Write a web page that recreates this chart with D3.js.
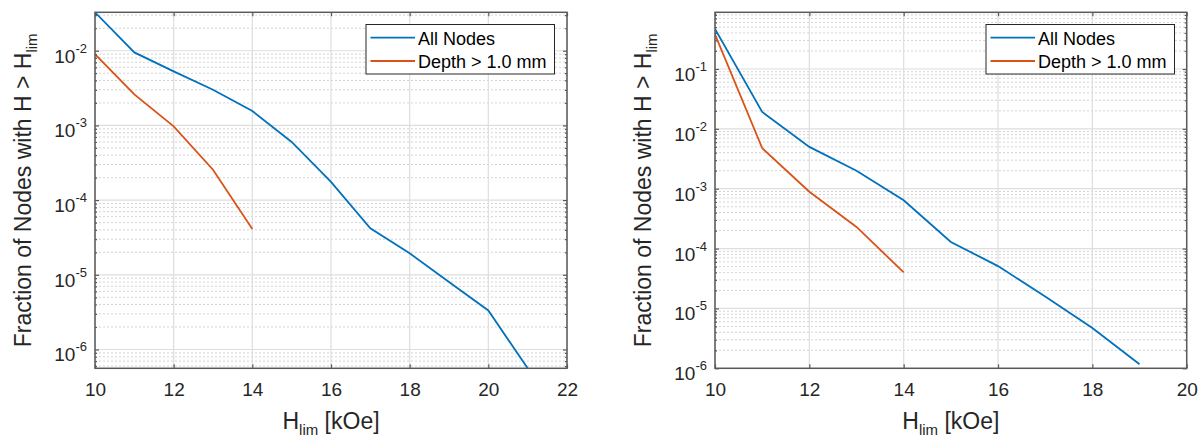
<!DOCTYPE html>
<html>
<head>
<meta charset="utf-8">
<script src="https://cdn.jsdelivr.net/npm/d3@7"></script>
<style>
  html, body { margin: 0; padding: 0; background: #fff; }
  svg { display: block; font-family: "Liberation Sans", Arial, Helvetica, sans-serif; }
</style>
</head>
<body>
<svg id="chart" width="1201" height="437"></svg>
<script>
// ---- Data ----
const leftH = [10, 11, 12, 13, 14, 15, 16, 17, 18, 19, 20, 21];
const leftAllNodes = [0.0327, 0.0095, 0.0053, 0.0030, 0.00156, 0.00060, 0.000175, 0.000042, 0.0000194, 0.0000080, 0.00000333, 0.00000056];
const leftDeepH = [10, 11, 12, 13, 14];
const leftDeep = [0.0090, 0.0026, 0.00097, 0.000255, 0.000041];

const rightH = [10, 11, 12, 13, 14, 15, 16, 17, 18, 19];
const rightAllNodes = [0.466, 0.0192, 0.0050, 0.0020, 0.00064, 0.000129, 0.000051, 0.0000158, 0.0000047, 0.00000117];
const rightDeepH = [10, 11, 12, 13, 14];
const rightDeep = [0.38, 0.00477, 0.00089, 0.00023, 0.00004];

const seriesNames = ["All Nodes", "Depth > 1.0 mm"];
const leftXTicks = [10, 12, 14, 16, 18, 20, 22];
const rightXTicks = [10, 12, 14, 16, 18, 20];
const leftYExp = [-6, -5, -4, -3, -2];
const rightYExp = [-6, -5, -4, -3, -2, -1];
const leftYDomain = [0.00000056, 0.0327];
const rightYDomain = [0.000001, 0.885];

const colors = ["#0072BD", "#D95319"];
const svg = d3.select("#chart");
const textColor = "#262626";

function panel(cfg) {
  const x = d3.scaleLinear().domain(cfg.xDomain).range([cfg.left, cfg.right]);
  const y = d3.scaleLog().domain(cfg.yDomain).range([cfg.bottom, cfg.top]);
  const g = svg.append("g");

  // minor y values
  const minors = [];
  const lo = Math.floor(Math.log10(cfg.yDomain[0])), hi = Math.ceil(Math.log10(cfg.yDomain[1]));
  for (let e = lo; e <= hi; e++) {
    for (let m = 2; m <= 9; m++) {
      const v = m * Math.pow(10, e);
      if (v >= cfg.yDomain[0] && v <= cfg.yDomain[1]) minors.push(v);
    }
  }
  const majors = cfg.yExp.map(e => Math.pow(10, e));

  // minor grid
  g.append("g").selectAll("line").data(minors).join("line")
    .attr("x1", cfg.left).attr("x2", cfg.right)
    .attr("y1", d => y(d)).attr("y2", d => y(d))
    .attr("stroke", "#d4d4d4").attr("stroke-width", 1)
    .attr("stroke-dasharray", "2,2");
  // major grid
  g.append("g").selectAll("line").data(majors).join("line")
    .attr("x1", cfg.left).attr("x2", cfg.right)
    .attr("y1", d => y(d)).attr("y2", d => y(d))
    .attr("stroke", "#dedede").attr("stroke-width", 1.2);
  g.append("g").selectAll("line").data(cfg.xTicks).join("line")
    .attr("x1", d => x(d)).attr("x2", d => x(d))
    .attr("y1", cfg.top).attr("y2", cfg.bottom)
    .attr("stroke", "#dedede").attr("stroke-width", 1.2);

  // clip path
  const clipId = "clip" + cfg.id;
  svg.append("clipPath").attr("id", clipId).append("rect")
    .attr("x", cfg.left).attr("y", cfg.top - 1)
    .attr("width", cfg.right - cfg.left).attr("height", cfg.bottom - cfg.top + 2);

  const line = d3.line().x(d => x(d[0])).y(d => y(d[1]));
  cfg.series.forEach((s, i) => {
    g.append("path")
      .datum(s.xs.map((xv, k) => [xv, s.ys[k]]))
      .attr("d", line)
      .attr("fill", "none")
      .attr("stroke", colors[i])
      .attr("stroke-width", 1.8)
      .attr("clip-path", `url(#${clipId})`);
  });

  // axes with inward ticks
  const axColor = "#5a5a5a";
  const xb = g.append("g").attr("transform", `translate(0,${cfg.bottom})`)
    .call(d3.axisBottom(x).tickValues(cfg.xTicks).tickSize(-4).tickPadding(14).tickFormat(d3.format("d")));
  const xt = g.append("g").attr("transform", `translate(0,${cfg.top})`)
    .call(d3.axisTop(x).tickValues(cfg.xTicks).tickSize(-4).tickFormat(""));
  const yl = g.append("g").attr("transform", `translate(${cfg.left},0)`)
    .call(d3.axisLeft(y).tickValues(majors).tickSize(-4).tickFormat(""));
  const yr = g.append("g").attr("transform", `translate(${cfg.right},0)`)
    .call(d3.axisRight(y).tickValues(majors).tickSize(-4).tickFormat(""));
  const ylm = g.append("g").attr("transform", `translate(${cfg.left},0)`)
    .call(d3.axisLeft(y).tickValues(minors).tickSize(-2).tickFormat(""));
  const yrm = g.append("g").attr("transform", `translate(${cfg.right},0)`)
    .call(d3.axisRight(y).tickValues(minors).tickSize(-2).tickFormat(""));
  [xb, xt, yl, yr, ylm, yrm].forEach(a => {
    a.selectAll(".domain").remove();
    a.selectAll(".tick line").attr("stroke", axColor).attr("stroke-width", 1.2);
  });
  xb.selectAll(".tick text").attr("fill", textColor).style("font-size", "19px")
    .style("font-family", "'Liberation Sans', Arial, sans-serif");

  // axis box
  g.append("rect").attr("x", cfg.left).attr("y", cfg.top)
    .attr("width", cfg.right - cfg.left).attr("height", cfg.bottom - cfg.top)
    .attr("fill", "none").attr("stroke", axColor).attr("stroke-width", 1.5);

  // y tick labels with superscripts
  cfg.yExp.forEach(e => {
    const t = g.append("text")
      .attr("x", cfg.left - 8).attr("y", y(Math.pow(10, e)) + 12)
      .attr("text-anchor", "end").attr("fill", textColor).style("font-size", "19px");
    t.append("tspan").text("10");
    t.append("tspan").attr("dy", -10).style("font-size", "13px").text("-" + Math.abs(e));
  });

  // x label
  const xl = g.append("text").attr("x", (cfg.left + cfg.right) / 2).attr("y", 429)
    .attr("text-anchor", "middle").attr("fill", textColor).style("font-size", "23px");
  xl.append("tspan").text("H");
  xl.append("tspan").attr("dy", 6).style("font-size", "15px").text("lim");
  xl.append("tspan").attr("dy", -6).text(" [kOe]");

  // y label
  const yc = (cfg.top + cfg.bottom) / 2;
  const ylab = g.append("text")
    .attr("transform", `translate(${cfg.left - 64},${yc}) rotate(-90)`)
    .attr("text-anchor", "middle").attr("fill", textColor).style("font-size", "23px");
  ylab.append("tspan").text("Fraction of Nodes with H > H");
  ylab.append("tspan").attr("dy", 6).style("font-size", "15px").text("lim");

  // legend
  const lg = g.append("g");
  lg.append("rect").attr("x", cfg.legX).attr("y", 24.5).attr("width", 188.5).attr("height", 49.5)
    .attr("fill", "#fff").attr("stroke", textColor).attr("stroke-width", 1);
  seriesNames.forEach((n, i) => {
    const yy = 37.7 + i * 23.3;
    lg.append("line").attr("x1", cfg.legX + 4.5).attr("x2", cfg.legX + 49)
      .attr("y1", yy).attr("y2", yy).attr("stroke", colors[i]).attr("stroke-width", 1.8);
    lg.append("text").attr("x", cfg.legX + 52).attr("y", yy + 6.8)
      .attr("fill", "#000").style("font-size", "18px").text(n);
  });
}

panel({
  id: "L", left: 95, right: 567, top: 12.3, bottom: 368.3,
  xDomain: [10, 22], yDomain: leftYDomain, xTicks: leftXTicks, yExp: leftYExp,
  legX: 366,
  series: [{ xs: leftH, ys: leftAllNodes }, { xs: leftDeepH, ys: leftDeep }]
});
panel({
  id: "R", left: 715, right: 1186.7, top: 12.3, bottom: 368.3,
  xDomain: [10, 20], yDomain: rightYDomain, xTicks: rightXTicks, yExp: rightYExp,
  legX: 986,
  series: [{ xs: rightH, ys: rightAllNodes }, { xs: rightDeepH, ys: rightDeep }]
});
</script>
</body>
</html>
